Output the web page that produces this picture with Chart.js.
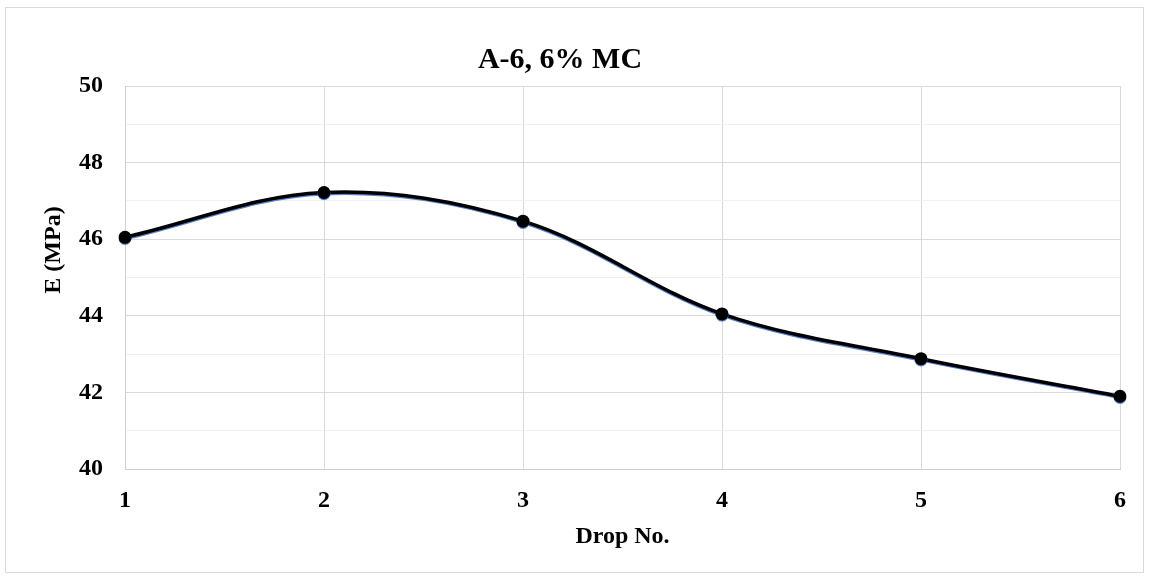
<!DOCTYPE html>
<html>
<head>
<meta charset="utf-8">
<script src="https://cdn.jsdelivr.net/npm/chart.js@4"></script>
<style>
  body { margin: 0; background: #fff; }
  #frame { position: absolute; left: 5px; top: 7px; width: 1137px; height: 564px; border: 1px solid #d9d9d9; }
  #wrap { position: absolute; left: 0; top: 0; width: 1149px; height: 579px; }
</style>
</head>
<body>
<div id="frame"></div>
<div id="wrap"><canvas id="chart" width="1149" height="579"></canvas></div>
<script>
const dropNo = ['1', '2', '3', '4', '5', '6'];
const modulus = [46.05, 47.22, 46.47, 44.05, 42.88, 41.90];
const yTicks = [40, 42, 44, 46, 48, 50];
const yTitle = 'E (MPa)';

const serif = "'Liberation Serif', 'Times New Roman', serif";

// thin blue line under the black one, like the original
const underline = {
    id: 'underline',
    beforeDatasetsDraw(chart) {
        const ctx = chart.ctx;
        ctx.save();
        ctx.shadowColor = 'rgba(68,114,196,0.9)';
        ctx.shadowOffsetY = 1.2;
        ctx.shadowBlur = 0;
    },
    afterDatasetsDraw(chart) {
        chart.ctx.restore();
    }
};

// y title sits a bit above the middle of the axis in the original
const yAxisTitle = {
    id: 'yAxisTitle',
    afterDraw(chart) {
        const ctx = chart.ctx;
        ctx.save();
        ctx.translate(54, 250);
        ctx.rotate(-Math.PI / 2);
        ctx.font = 'bold 24px ' + serif;
        ctx.fillStyle = '#000';
        ctx.textAlign = 'center';
        ctx.textBaseline = 'middle';
        ctx.fillText(yTitle, 0, 0);
        ctx.restore();
    }
};

const ctx = document.getElementById('chart');

new Chart(ctx, {
    type: 'line',
    data: {
        labels: dropNo,
        datasets: [{
            label: 'E',
            data: modulus,
            borderColor: '#000',
            backgroundColor: '#000',
            borderWidth: 3.5,
            tension: 0.35,
            pointRadius: 6.5,
            pointBackgroundColor: '#000',
            pointBorderWidth: 0
        }]
    },
    options: {
        responsive: false,
        animation: false,
        layout: { padding: { left: 0, right: 29, top: 0, bottom: 0 } },
        plugins: {
            legend: { display: false },
            tooltip: { enabled: false },
            title: {
                display: true,
                text: 'A-6, 6% MC',
                color: '#000',
                font: { family: serif, size: 30, weight: 'bold' },
                padding: { top: 42, bottom: 8 }
            }
        },
        scales: {
            x: {
                offset: false,
                grid: { color: '#d9d9d9', lineWidth: 1, drawTicks: false },
                border: { color: '#d0d0d0', width: 1 },
                ticks: {
                    color: '#000',
                    padding: 17,
                    font: { family: serif, size: 24, weight: 'bold' }
                },
                title: {
                    display: true,
                    text: 'Drop No.',
                    color: '#000',
                    font: { family: serif, size: 24, weight: 'bold' },
                    padding: { top: 0, bottom: 27.6 }
                },
                afterFit(scale) { scale.height = 110; }
            },
            y: {
                min: yTicks[0],
                max: yTicks[yTicks.length - 1],
                grid: {
                    drawTicks: false,
                    lineWidth: 1,
                    color: c => (c.tick && c.tick.value % 2 !== 0) ? '#f0f0f0' : '#d9d9d9'
                },
                border: { color: '#d0d0d0', width: 1 },
                ticks: {
                    stepSize: 1,
                    color: '#000',
                    padding: 22,
                    font: { family: serif, size: 24, weight: 'bold' },
                    callback: v => yTicks.includes(v) ? String(v) : ''
                },
                title: { display: false },
                afterFit(scale) { scale.width = 125; }
            }
        }
    },
    plugins: [underline, yAxisTitle]
});
</script>
</body>
</html>
